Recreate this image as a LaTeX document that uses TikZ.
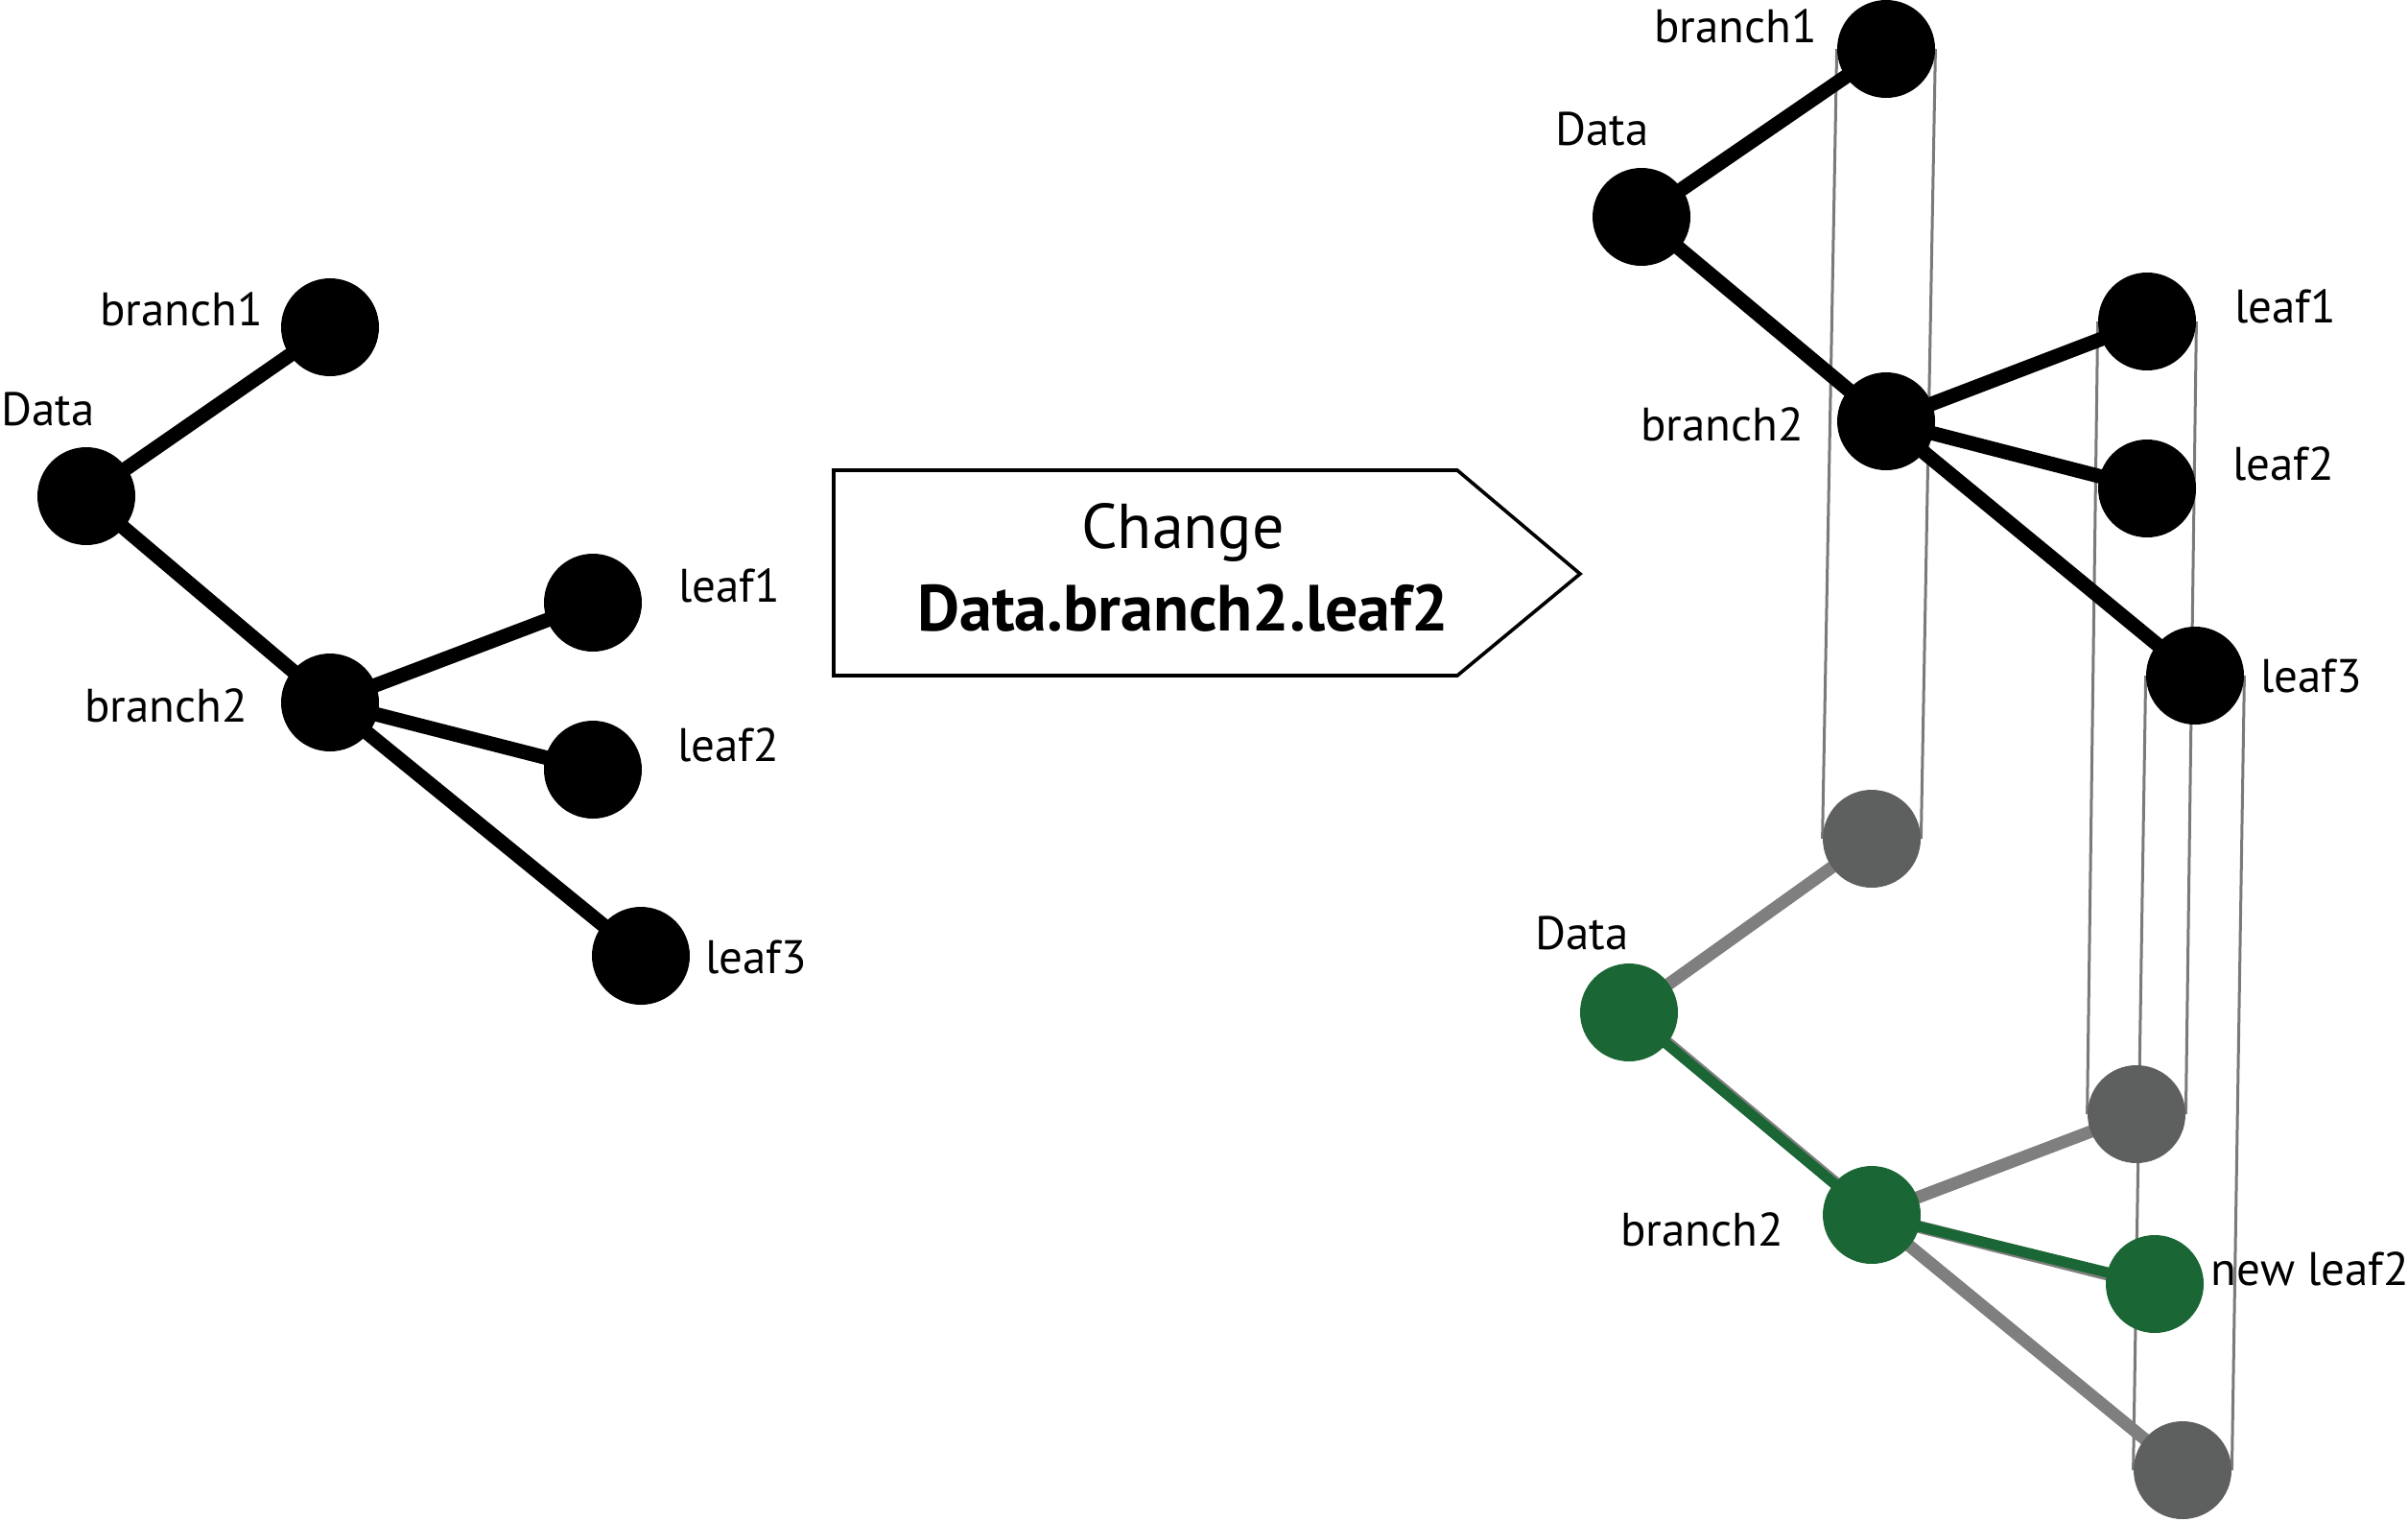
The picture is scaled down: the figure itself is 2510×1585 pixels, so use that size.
\documentclass[tikz,border=0pt]{standalone}
\usepackage{fontspec}
\setmainfont{PT Sans}
\usetikzlibrary{backgrounds}
\definecolor{dgreen}{HTML}{1A6634}
\definecolor{gnode}{HTML}{5E605F}
\definecolor{gedge}{HTML}{7F7F7F}
\definecolor{gthin}{HTML}{7A7A7A}
\begin{document}
\begin{tikzpicture}[x=0.5pt,y=-0.5pt,
 dot/.style={circle,minimum size=51pt,inner sep=0pt,fill=black},
 gdot/.style={dot,fill=gnode},
 grdot/.style={dot,fill=dgreen},
 lbl/.style={font=\fontsize{24.5}{28}\selectfont,inner sep=0pt},
 bedge/.style={line width=7.5pt,black},
 gedgest/.style={line width=6.5pt,gedge},
 gredge/.style={line width=5.5pt,dgreen},
 proj/.style={line width=1.5pt,gthin},
]
\useasboundingbox (0,0) rectangle (2510,1585);

% ---------- left tree ----------
\node[dot] (Lb1) at (344,341) {};
\node[dot] (LD)  at (90,517) {};
\node[dot] (Lb2) at (344,732) {};
\node[dot] (Ll1) at (618,628) {};
\node[dot] (Ll2) at (618,802) {};
\node[dot] (Ll3) at (668,996) {};
\node[lbl] (tLb1) at (189,322) {branch1};
\node[lbl] (tLD)  at (50,426) {Data};
\node[lbl] (tLb2) at (173,735) {branch2};
\node[lbl] (tLl1) at (760,610) {leaf1};
\node[lbl] (tLl2) at (759,776) {leaf2};
\node[lbl] (tLl3) at (788,997) {leaf3};

% ---------- box ----------
\draw[line width=1.8pt,black] (869,490) -- (1519,490) -- (1647,598) -- (1519,704) -- (869,704) -- cycle;
\node[font=\fontsize{33}{38}\selectfont,inner sep=0pt] (chg) at (1233,555) {Change};
\node[font=\fontsize{34}{38}\selectfont\bfseries,inner sep=0pt] (path) at (1233,634) {Data.branch2.leaf2};

% ---------- right top tree ----------
\node[dot] (Tb1) at (1966,51) {};
\node[dot] (TD)  at (1711,226) {};
\node[dot] (Tb2) at (1966,439) {};
\node[dot] (Tl1) at (2238,335) {};
\node[dot] (Tl2) at (2238,509) {};
\node[dot] (Tl3) at (2288,704) {};
\node[lbl] (tTb1) at (1809,27) {branch1};
\node[lbl] (tTD)  at (1670,134) {Data};
\node[lbl] (tTb2) at (1795,442) {branch2};
\node[lbl] (tTl1) at (2382,319) {leaf1};
\node[lbl] (tTl2) at (2380,483) {leaf2};
\node[lbl] (tTl3) at (2409,704) {leaf3};

% ---------- right bottom tree ----------
\node[gdot]  (Bb1) at (1951,874) {};
\node[grdot] (BD)  at (1698,1055) {};
\node[grdot] (Bb2) at (1951,1266) {};
\node[gdot]  (Bl1) at (2227,1161) {};
\node[grdot] (Bl2) at (2246,1338) {};
\node[gdot]  (Bl3) at (2275,1532) {};
\coordinate (Bl2old) at (2225,1335);
\node[lbl] (tBD)  at (1649,972) {Data};
\node[lbl] (tBb2) at (1774,1281) {branch2};
\node[lbl] (tBl2) at (2408,1322) {new leaf2};

\begin{scope}[on background layer]
 % projection lines
 \draw[proj] (Tb1.west) -- (Bb1.west);
 \draw[proj] (Tb1.east) -- (Bb1.east);
 \draw[proj] (Tl1.west) -- (Bl1.west);
 \draw[proj] (Tl1.east) -- (Bl1.east);
 \draw[proj] (Tl3.west) -- (Bl3.west);
 \draw[proj] (Tl3.east) -- (Bl3.east);
 % left edges
 \draw[bedge] (LD.center) -- (Lb1.center);
 \draw[bedge] (LD.center) -- (Lb2.center);
 \draw[bedge] (Lb2.center) -- (Ll1.center);
 \draw[bedge] (Lb2.center) -- (Ll2.center);
 \draw[bedge] (Lb2.center) -- (Ll3.center);
 % top edges
 \draw[bedge] (TD.center) -- (Tb1.center);
 \draw[bedge] (TD.center) -- (Tb2.center);
 \draw[bedge] (Tb2.center) -- (Tl1.center);
 \draw[bedge] (Tb2.center) -- (Tl2.center);
 \draw[bedge] (Tb2.center) -- (Tl3.center);
 % bottom edges
 \draw[gedgest] (BD.center) -- (Bb1.center);
 \draw[gedgest] ([xshift=1pt]BD.center) -- ([xshift=1pt]Bb2.center);
 \draw[gedgest] (Bb2.center) -- (Bl1.center);
 \draw[gedgest] (Bb2.center) -- (Bl2old);
 \draw[gedgest] (Bb2.center) -- (Bl3.center);
 \draw[gredge] (BD.center) -- (Bb2.center);
 \draw[gredge] (Bb2.center) -- (Bl2.center);
\end{scope}
\end{tikzpicture}
\end{document}
